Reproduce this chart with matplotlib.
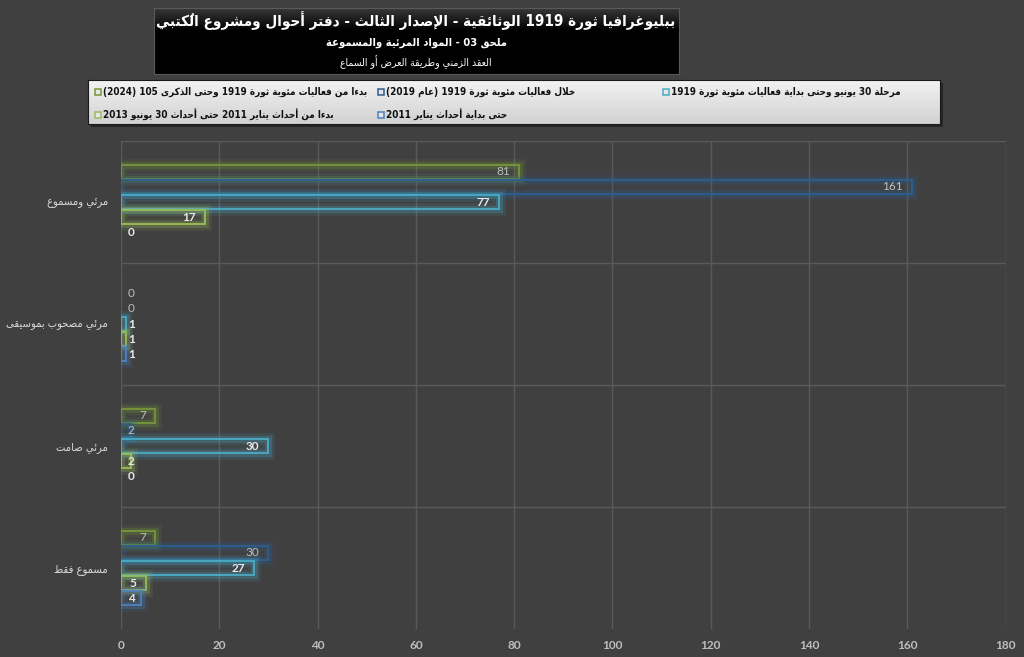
import re
import numpy as np
import matplotlib
matplotlib.use("Agg")
import matplotlib.pyplot as plt
import matplotlib.patheffects as pe

plt.rcParams['font.family'] = ['DejaVu Sans']

# ---- data -------------------------------------------------------------
title_lines = [
    'ببليوغرافيا ثورة 1919 الوثائقية - الإصدار الثالث - دفتر أحوال ومشروع الكُتبي',
    'ملحق 03 - المواد المرئية والمسموعة',
    'العقد الزمني وطريقة العرض أو السماع',
]
categories = ['مرئي ومسموع', 'مرئي مصحوب بموسيقى', 'مرئي صامت', 'مسموع فقط']

series_names = [
    'حتى بداية أحداث يناير 2011',
    'بدءا من أحداث يناير 2011 حتى أحداث 30 يونيو 2013',
    'مرحلة 30 يونيو وحتى بداية فعاليات مئوية ثورة 1919',
    'خلال فعاليات مئوية ثورة 1919 (عام 2019)',
    'بدءا من فعاليات مئوية ثورة 1919 وحتى الذكرى 105 (2024)',
]
until_2011 = [0, 1, 0, 4]
jan2011_to_jun2013 = [17, 1, 2, 5]
jun2013_to_2019 = [77, 1, 30, 27]
during_2019 = [161, 0, 2, 30]
from_2019_to_2024 = [81, 0, 7, 7]

x_ticks = [0, 20, 40, 60, 80, 100, 120, 140, 160, 180]

# ---- arabic shaping (matplotlib has no bidi / joining) ----------------
DUAL = {0x0626: 0xFE89, 0x0628: 0xFE8F, 0x062A: 0xFE95, 0x062B: 0xFE99, 0x062C: 0xFE9D,
        0x062D: 0xFEA1, 0x062E: 0xFEA5, 0x0633: 0xFEB1, 0x0634: 0xFEB5, 0x0635: 0xFEB9,
        0x0636: 0xFEBD, 0x0637: 0xFEC1, 0x0638: 0xFEC5, 0x0639: 0xFEC9, 0x063A: 0xFECD,
        0x0641: 0xFED1, 0x0642: 0xFED5, 0x0643: 0xFED9, 0x0644: 0xFEDD, 0x0645: 0xFEE1,
        0x0646: 0xFEE5, 0x0647: 0xFEE9, 0x064A: 0xFEF1}
RIGHT = {0x0622: 0xFE81, 0x0623: 0xFE83, 0x0624: 0xFE85, 0x0625: 0xFE87, 0x0627: 0xFE8D,
         0x0629: 0xFE93, 0x062F: 0xFEA9, 0x0630: 0xFEAB, 0x0631: 0xFEAD, 0x0632: 0xFEAF,
         0x0648: 0xFEED, 0x0649: 0xFEEF}
LAMALEF = {0x0622: 0xFEF5, 0x0623: 0xFEF7, 0x0625: 0xFEF9, 0x0627: 0xFEFB}


def is_mark(c):
    return 0x064B <= ord(c) <= 0x0652


def shape(s):
    n = len(s)
    out = []
    i = 0
    while i < n:
        o = ord(s[i])
        if o in DUAL or o in RIGHT:
            j = i - 1
            while j >= 0 and is_mark(s[j]):
                j -= 1
            joins_prev = j >= 0 and ord(s[j]) in DUAL
            k = i + 1
            while k < n and is_mark(s[k]):
                k += 1
            nx = ord(s[k]) if k < n else None
            if o == 0x0644 and nx in LAMALEF:
                out.append(chr(LAMALEF[nx] + (1 if joins_prev else 0)))
                i = k + 1
                continue
            if o in DUAL:
                joins_next = nx is not None and (nx in DUAL or nx in RIGHT)
                form = 3 if (joins_prev and joins_next) else 1 if joins_prev else 2 if joins_next else 0
                out.append(chr(DUAL[o] + form))
            else:
                out.append(chr(RIGHT[o] + (1 if joins_prev else 0)))
        elif o == 0x0621:
            out.append(chr(0xFE80))
        else:
            out.append(s[i])
        i += 1
    return ''.join(out)


def ar(s):
    tokens = re.findall(r'[0-9A-Za-z]+|.[\u064B-\u0652]*', shape(s))
    mirror = {'(': ')', ')': '('}
    return ''.join(mirror.get(t, t) for t in reversed(tokens))


# ---- figure -----------------------------------------------------------
bg = '#404040'
fig = plt.figure(figsize=(10.24, 6.57), dpi=100, facecolor=bg)

W, H = 1024, 657
ax = fig.add_axes([121 / W, 1 - 629 / H, (1005.5 - 121) / W, (629 - 141) / H])
ax.set_facecolor(bg)

# top-to-bottom order inside each group
stack = [
    (from_2019_to_2024, '#77963a', False),
    (during_2019, '#2d5e8e', False),
    (jun2013_to_2019, '#4bacc6', True),
    (jan2011_to_jun2013, '#9bbb59', True),
    (until_2011, '#4f81bd', True),
]
slot = 0.123
bar_h = 0.118
y = np.arange(len(categories))

for k, (vals, col, bold) in enumerate(stack):
    pos = y + (k - 2) * slot
    bars = ax.barh(pos, vals, height=bar_h, facecolor='none', edgecolor=col,
                   linewidth=1.3, zorder=3,
                   path_effects=[pe.Stroke(linewidth=9, foreground=col, alpha=0.12),
                                 pe.Stroke(linewidth=5, foreground=col, alpha=0.25),
                                 pe.Normal()])
    for rect, v in zip(bars, vals):
        if v == 0:
            rect.set_visible(False)
    for v, yy in zip(vals, pos):
        if v < 4.5:
            xy, off, ha = (0, yy), (5, 0), 'left'
        else:
            xy, off, ha = (v, yy), (-6.5, 0), 'right'
        ax.annotate(str(v), xy, xytext=off, textcoords='offset points', ha=ha, va='center',
                    fontsize=8.5, family='Lato', zorder=4,
                    fontweight='bold' if bold else 'normal',
                    color='#e8e8e8' if bold else '#bfbfbf')

ax.set_xlim(0, 180)
ax.set_ylim(3.5, -0.5)
ax.set_xticks(x_ticks)
ax.set_xticklabels([str(t) for t in x_ticks], fontweight='bold', family='Lato')
ax.set_yticks(y)
ax.set_yticklabels([ar(c) for c in categories], fontstretch='condensed')
ax.set_yticks([-0.5, 0.5, 1.5, 2.5], minor=True)
ax.tick_params(axis='x', length=0, pad=8, colors='#bfbfbf', labelsize=8.5)
ax.tick_params(axis='y', which='both', length=0, pad=9.5, colors='#d9d9d9', labelsize=8)
ax.grid(axis='x', color='#5a5a5a', linewidth=1)
ax.grid(axis='y', which='minor', color='#5a5a5a', linewidth=1)
ax.grid(axis='y', which='major', visible=False)
ax.set_axisbelow(True)
for s in ax.spines.values():
    s.set_visible(False)

# ---- title box --------------------------------------------------------
tax = fig.add_axes([154 / W, 1 - 74 / H, (679 - 154) / W, 66 / H])
grad = np.concatenate([np.linspace(0.22, 0.0, 35), np.zeros(65)])
tax.imshow(grad[:, None] * np.ones((1, 10)), cmap='gray', vmin=0, vmax=1,
           aspect='auto', extent=(0, 1, 0, 1))
tax.set_xticks([])
tax.set_yticks([])
for s in tax.spines.values():
    s.set_color('#5a5a5a')

fig.text(416 / W, 1 - 21 / H, ar(title_lines[0]), ha='center', va='center',
         color='white', fontsize=10.9, fontweight='bold', fontstretch='condensed')
fig.text(416 / W, 1 - 43 / H, ar(title_lines[1]), ha='center', va='center',
         color='white', fontsize=8, fontweight='bold', fontstretch='condensed')
fig.text(416 / W, 1 - 62 / H, ar(title_lines[2]), ha='center', va='center',
         color='white', fontsize=7.5, fontstretch='condensed')

# ---- legend box -------------------------------------------------------
shadow = fig.add_axes([91 / W, 1 - 127 / H, 852 / W, 44 / H])
shadow.set_facecolor('#262626')
shadow.set_xticks([])
shadow.set_yticks([])
for s in shadow.spines.values():
    s.set_visible(False)

lax = fig.add_axes([88 / W, 1 - 124 / H, 852 / W, 44 / H])
lgrad = np.linspace(0.95, 0.82, 100)
lax.imshow(lgrad[:, None] * np.ones((1, 10)), cmap='gray', vmin=0, vmax=1,
           aspect='auto', extent=(0, 1, 0, 1))
lax.set_xticks([])
lax.set_yticks([])
for s in lax.spines.values():
    s.set_color('#1a1a1a')

series_colors = ['#4f81bd', '#9bbb59', '#4bacc6', '#2d5e8e', '#77963a']
legend_slots = [(378, 115), (95, 115), (663, 92), (378, 92), (95, 92)]
for name, col, (lx, ly) in zip(series_names, series_colors, legend_slots):
    fig.patches.append(plt.Rectangle((lx / W, 1 - (ly + 3) / H), 6 / W, 6 / H,
                                     transform=fig.transFigure, facecolor='#e6e6e6',
                                     edgecolor=col, linewidth=1.1, zorder=5))
    fig.text((lx + 8) / W, 1 - ly / H, ar(name), ha='left', va='center',
             color='#111111', fontsize=7.15, fontweight='bold', fontstretch='condensed',
             zorder=6)

fig.savefig('out.png', dpi=100, facecolor=bg)
